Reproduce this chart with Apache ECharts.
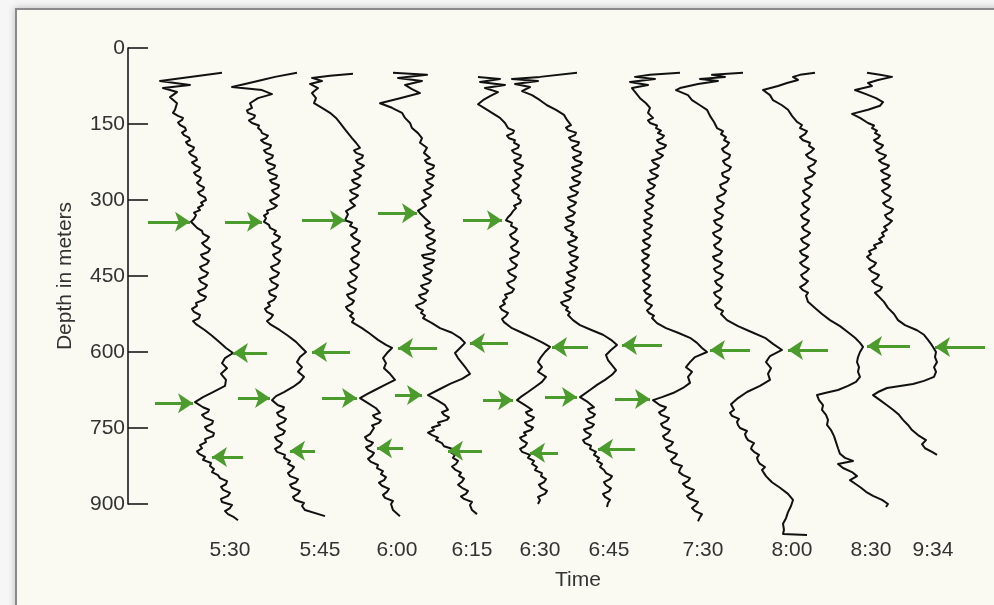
<!DOCTYPE html>
<html>
<head>
<meta charset="utf-8">
<title>Depth profiles</title>
<script src="https://cdn.jsdelivr.net/npm/echarts@6/dist/echarts.min.js"></script>
<style>
  html, body { margin: 0; padding: 0; background: #f6f6f6; }
  #frame {
    position: absolute; left: 15px; top: 8px; width: 1000px; height: 620px;
    border: 2px solid #8a8a8a; background: #fafaf3;
    box-shadow: 0 0 7px rgba(0,0,0,0.25);
  }
  #chart { position: absolute; left: 0; top: 0; width: 994px; height: 605px; }
</style>
</head>
<body>
<div id="frame"></div>
<div id="chart"></div>
<script>
// Time of each sounding and where its label sits on the horizontal scale
const timeLabels = ['5:30', '5:45', '6:00', '6:15', '6:30', '6:45', '7:30', '8:00', '8:30', '9:34'];
const labelPositions = [102, 192, 269, 344, 412, 481, 575, 664, 743, 805];

// Depth ticks (m)
const depthTicks = [0, 150, 300, 450, 600, 750, 900];

// Profiles: [horizontal reading, depth in m]
const profile0530 = [[94,49],[32,65],[62,73],[35,79],[49,87],[42,97],[49,109],[47,122],[45,128],[50,134],[55,138],[54,142],[50,147],[52,152],[57,157],[58,162],[54,167],[56,172],[61,177],[62,182],[58,186],[60,191],[66,196],[65,201],[61,206],[63,211],[68,216],[69,221],[64,226],[67,231],[72,236],[71,241],[66,246],[68,251],[73,256],[72,261],[69,266],[71,270],[76,275],[75,280],[70,285],[72,290],[77,295],[78,300],[73,305],[75,310],[70,315],[72,320],[66,325],[68,330],[66,337],[63,343],[66,349],[69,355],[74,361],[75,367],[81,373],[79,379],[74,385],[77,391],[82,397],[80,403],[73,408],[75,414],[81,420],[79,426],[72,432],[74,438],[80,444],[78,450],[71,456],[73,462],[79,468],[77,474],[70,480],[72,486],[78,491],[76,497],[68,503],[69,509],[64,515],[66,521],[72,527],[71,533],[65,539],[68,545],[77,557],[84,568],[91,580],[98,592],[105,602],[97,612],[94,622],[99,632],[93,643],[98,655],[97,667],[85,679],[75,689],[67,699],[75,709],[81,714],[80,718],[74,724],[77,730],[85,736],[84,742],[77,748],[79,754],[86,760],[85,766],[77,772],[78,778],[72,784],[74,790],[69,796],[71,801],[77,807],[75,813],[83,819],[82,825],[86,831],[84,837],[90,843],[92,849],[99,855],[98,861],[93,866],[95,872],[102,878],[100,884],[93,890],[94,896],[104,902],[102,908],[97,914],[100,920],[106,926],[110,932]];
const profile0545 = [[169,49],[147,57],[134,63],[117,71],[104,77],[134,83],[144,91],[130,99],[122,109],[124,118],[119,123],[120,128],[127,133],[126,138],[121,143],[124,148],[131,153],[130,158],[133,163],[134,168],[140,173],[138,178],[133,182],[136,187],[143,192],[142,197],[136,202],[138,207],[145,212],[144,217],[138,222],[140,227],[147,232],[146,237],[140,242],[142,247],[149,252],[148,257],[142,261],[144,266],[151,271],[150,276],[144,281],[146,286],[151,291],[148,296],[142,301],[144,306],[149,311],[146,316],[139,321],[140,326],[136,331],[138,336],[136,343],[141,349],[142,355],[148,361],[146,367],[152,373],[150,379],[144,385],[146,391],[153,397],[151,403],[145,408],[147,414],[152,420],[150,426],[143,432],[145,438],[151,444],[149,450],[142,456],[144,462],[150,468],[148,474],[141,480],[142,486],[148,491],[146,497],[140,503],[142,509],[137,515],[139,521],[145,527],[143,533],[139,539],[142,545],[152,557],[160,568],[168,580],[174,592],[178,600],[172,610],[169,620],[174,630],[170,639],[176,649],[172,659],[165,669],[156,679],[148,687],[144,695],[150,705],[156,709],[155,714],[149,720],[151,726],[158,732],[156,738],[149,744],[151,750],[157,756],[155,762],[147,768],[149,774],[154,780],[152,786],[147,791],[149,797],[157,803],[156,809],[162,815],[160,821],[166,827],[164,833],[160,839],[162,845],[170,851],[168,857],[162,862],[164,868],[172,874],[170,880],[165,886],[167,892],[176,898],[174,904],[177,912],[197,924]];
const profile0600 = [[225,51],[202,55],[184,59],[194,65],[182,71],[190,79],[184,89],[188,99],[186,109],[194,118],[202,128],[208,138],[212,148],[216,158],[220,168],[224,178],[228,187],[232,197],[226,202],[228,207],[235,212],[234,217],[228,222],[230,227],[236,232],[233,237],[226,242],[228,247],[233,252],[230,257],[224,261],[226,266],[232,271],[229,276],[222,281],[224,286],[230,291],[227,296],[222,301],[224,306],[227,311],[223,316],[218,322],[220,328],[217,340],[224,345],[222,351],[229,357],[228,363],[223,369],[226,375],[232,381],[230,387],[224,393],[226,399],[231,404],[229,410],[223,416],[225,422],[231,428],[229,434],[222,440],[224,446],[229,452],[227,458],[220,464],[222,470],[228,476],[226,482],[219,487],[221,493],[226,499],[224,505],[218,511],[220,517],[225,523],[222,529],[226,535],[224,541],[234,553],[242,564],[250,576],[258,586],[264,592],[259,602],[255,612],[258,622],[256,632],[262,643],[267,655],[257,665],[247,675],[239,683],[232,691],[240,701],[248,711],[252,720],[245,725],[247,730],[253,735],[251,740],[244,745],[246,750],[244,756],[242,762],[237,768],[239,774],[245,779],[243,784],[238,788],[240,793],[246,799],[244,805],[240,811],[243,817],[250,823],[249,829],[255,835],[253,841],[258,847],[256,853],[251,858],[254,864],[261,870],[259,876],[255,882],[257,888],[265,894],[263,900],[265,912],[272,924]];
const profile0615 = [[265,49],[299,53],[270,59],[294,65],[277,73],[284,81],[292,89],[272,99],[252,109],[264,118],[274,128],[277,138],[282,148],[284,158],[290,168],[294,178],[292,187],[299,197],[296,207],[302,217],[297,222],[299,227],[306,232],[305,237],[299,242],[300,247],[306,252],[304,257],[298,261],[300,266],[305,271],[302,276],[296,281],[298,286],[303,291],[300,296],[294,301],[296,306],[298,311],[294,316],[290,321],[292,326],[297,336],[302,345],[297,350],[299,355],[306,360],[304,365],[298,370],[301,375],[307,380],[305,385],[299,390],[300,395],[307,400],[305,405],[294,409],[296,414],[306,419],[304,424],[296,429],[298,434],[304,439],[302,444],[295,449],[297,454],[303,459],[301,464],[293,469],[295,474],[300,479],[298,484],[291,488],[293,493],[298,498],[295,503],[288,508],[290,513],[295,518],[293,523],[297,528],[295,533],[304,543],[312,553],[324,562],[332,572],[337,582],[332,592],[327,602],[330,612],[334,622],[338,632],[342,643],[334,653],[322,663],[312,673],[300,685],[309,695],[317,705],[320,714],[314,719],[316,724],[321,729],[319,734],[310,739],[312,744],[304,749],[306,754],[300,759],[304,764],[310,769],[308,774],[314,780],[316,786],[324,791],[322,797],[327,803],[325,809],[330,815],[328,821],[324,826],[327,832],[333,838],[331,844],[336,850],[334,856],[330,862],[334,868],[340,874],[338,880],[333,885],[336,890],[344,896],[342,902],[344,912],[349,920]];
const profile0630 = [[350,57],[372,61],[352,67],[377,73],[357,79],[370,87],[362,95],[355,103],[350,111],[356,118],[364,128],[372,138],[377,148],[380,158],[386,163],[385,168],[379,173],[381,178],[387,182],[386,187],[391,192],[390,197],[384,202],[386,207],[393,212],[392,217],[386,222],[388,227],[395,232],[393,237],[387,242],[389,247],[393,252],[391,257],[385,261],[387,266],[391,271],[389,276],[384,281],[386,286],[391,291],[390,296],[393,301],[392,306],[386,311],[388,316],[385,322],[383,328],[380,334],[378,340],[384,345],[383,351],[389,357],[387,363],[382,369],[384,375],[390,381],[388,387],[383,393],[385,399],[391,404],[389,410],[382,416],[384,422],[389,428],[387,434],[380,440],[382,446],[388,452],[386,458],[379,464],[381,470],[386,476],[384,482],[377,487],[379,493],[375,499],[377,505],[372,511],[374,517],[380,523],[378,529],[374,535],[376,541],[384,553],[394,562],[405,572],[415,582],[422,590],[417,600],[413,610],[410,620],[414,630],[410,639],[418,649],[414,659],[407,669],[400,679],[394,687],[389,695],[397,705],[404,714],[398,719],[400,724],[406,729],[404,734],[397,739],[399,744],[405,749],[403,754],[396,759],[398,764],[392,769],[394,774],[399,780],[397,786],[392,791],[394,797],[402,803],[400,809],[406,815],[404,821],[409,827],[407,833],[414,839],[413,845],[418,851],[416,857],[411,862],[413,868],[419,874],[417,880],[410,886],[412,892],[410,900]];
const profile0645 = [[449,49],[412,57],[384,61],[410,65],[387,71],[402,77],[394,85],[404,93],[412,103],[419,113],[428,122],[436,132],[439,142],[443,152],[438,157],[440,162],[448,167],[447,172],[441,177],[443,182],[451,186],[450,191],[444,196],[446,201],[453,206],[452,211],[445,216],[447,221],[454,226],[452,231],[444,236],[446,241],[453,246],[451,251],[444,256],[446,261],[452,265],[450,270],[442,275],[444,280],[450,285],[448,290],[440,295],[442,300],[448,305],[446,310],[440,315],[442,320],[447,325],[445,330],[438,335],[440,340],[446,344],[444,349],[437,354],[439,359],[445,364],[443,369],[449,374],[447,379],[440,384],[442,389],[449,394],[447,399],[441,404],[443,409],[450,413],[448,418],[442,423],[444,428],[449,433],[447,438],[439,443],[441,448],[447,453],[445,458],[438,463],[440,468],[446,473],[444,478],[436,483],[438,488],[443,492],[441,497],[433,502],[435,507],[440,512],[438,517],[442,522],[440,527],[445,537],[452,547],[464,557],[475,566],[483,576],[489,586],[483,596],[478,606],[480,616],[484,626],[488,636],[484,645],[477,655],[469,665],[462,675],[452,689],[460,699],[466,709],[460,713],[462,718],[467,723],[465,728],[458,733],[460,738],[466,743],[464,748],[456,753],[458,758],[463,763],[461,768],[455,774],[457,780],[463,785],[462,791],[468,797],[466,803],[471,809],[469,815],[474,821],[472,827],[476,833],[478,839],[484,845],[482,851],[476,857],[478,863],[483,869],[481,875],[475,880],[477,886],[482,892],[480,898],[479,906]];
const profile0730 = [[552,49],[522,53],[507,57],[527,61],[502,67],[520,73],[504,79],[508,89],[512,99],[518,109],[522,118],[520,128],[525,138],[520,143],[522,148],[529,153],[528,158],[533,163],[530,168],[536,173],[534,178],[529,182],[531,187],[538,192],[536,197],[528,202],[530,207],[535,212],[532,217],[524,222],[526,227],[531,232],[529,237],[522,242],[524,247],[530,252],[527,257],[520,261],[522,266],[527,271],[525,276],[519,281],[521,286],[526,291],[524,296],[518,301],[520,306],[525,311],[523,316],[517,321],[519,326],[524,331],[522,336],[516,340],[518,345],[524,350],[522,355],[516,360],[518,365],[523,370],[521,375],[515,380],[517,385],[522,390],[520,395],[514,400],[516,405],[521,409],[519,414],[514,419],[516,424],[521,429],[519,434],[515,439],[517,444],[522,449],[520,454],[515,459],[517,464],[522,469],[520,474],[516,479],[518,484],[523,488],[520,493],[517,498],[519,503],[524,508],[522,513],[519,518],[521,523],[526,528],[524,533],[529,543],[538,553],[550,562],[562,572],[569,582],[574,592],[579,600],[567,610],[562,620],[558,630],[564,639],[560,649],[562,661],[555,671],[545,681],[534,689],[525,695],[532,705],[538,709],[536,714],[531,719],[533,724],[541,730],[539,736],[533,742],[535,748],[542,754],[540,760],[535,766],[537,772],[545,778],[543,784],[538,789],[540,795],[549,801],[547,807],[543,813],[545,819],[554,825],[552,831],[551,837],[555,843],[562,849],[560,855],[555,860],[558,866],[566,872],[564,878],[559,884],[562,890],[570,896],[568,902],[564,908],[567,914],[574,920],[572,926],[570,934]];
const profile0800 = [[615,49],[584,53],[597,57],[572,61],[590,65],[570,71],[552,79],[548,83],[560,93],[564,103],[572,113],[579,122],[582,134],[586,146],[589,158],[595,164],[593,170],[598,176],[596,182],[601,187],[599,193],[594,199],[596,205],[602,211],[601,217],[595,223],[597,229],[603,235],[601,241],[594,247],[595,253],[601,258],[599,264],[592,270],[593,276],[598,282],[596,288],[589,294],[590,300],[596,306],[594,312],[587,318],[589,324],[595,330],[593,336],[586,341],[588,347],[594,353],[592,359],[585,365],[587,371],[593,377],[591,383],[586,389],[588,395],[594,401],[592,407],[585,412],[587,418],[594,424],[592,430],[586,436],[588,442],[595,448],[593,454],[587,460],[589,466],[594,472],[592,478],[586,483],[588,489],[593,495],[591,501],[587,507],[589,513],[595,519],[593,525],[599,537],[610,549],[624,561],[637,572],[645,584],[654,596],[642,608],[638,620],[643,632],[640,643],[642,655],[632,667],[619,679],[610,691],[603,703],[606,714],[602,720],[604,726],[611,732],[609,738],[610,744],[612,750],[619,756],[617,762],[618,768],[620,774],[626,780],[624,786],[623,791],[626,797],[631,803],[629,809],[630,815],[632,821],[637,827],[634,833],[636,839],[638,845],[641,851],[644,857],[652,868],[660,880],[665,892],[663,904],[660,916],[658,928],[655,939],[656,951],[655,959],[679,961]];
const profile0830 = [[687,49],[672,53],[665,57],[670,63],[659,69],[650,75],[635,83],[642,93],[645,103],[654,113],[660,122],[664,134],[669,146],[674,152],[672,158],[679,164],[677,170],[672,176],[675,182],[682,187],[681,193],[686,199],[683,205],[678,211],[681,217],[688,223],[686,229],[680,235],[682,241],[687,247],[684,253],[677,258],[678,264],[684,270],[681,276],[675,282],[677,288],[682,294],[680,300],[674,306],[676,312],[681,318],[678,324],[673,330],[675,336],[681,341],[679,347],[674,353],[676,359],[682,365],[679,371],[673,377],[675,383],[681,389],[678,395],[672,401],[674,407],[680,412],[677,418],[672,424],[675,430],[681,436],[678,442],[673,448],[675,454],[680,460],[677,466],[672,472],[675,478],[680,483],[678,489],[680,501],[687,513],[694,525],[702,537],[712,549],[720,561],[727,572],[732,582],[735,590],[732,600],[730,610],[729,620],[731,630],[730,639],[732,649],[728,659],[720,667],[710,675],[697,681],[689,685],[691,695],[695,705],[694,714],[698,724],[700,734],[699,744],[703,754],[706,766],[708,778],[710,790],[712,801],[717,809],[725,815],[710,821],[715,829],[724,837],[729,845],[722,853],[728,861],[733,868],[738,876],[745,884],[754,892],[760,900],[758,906]];
const profile0934 = [[739,49],[752,53],[764,57],[750,63],[740,69],[744,75],[727,83],[738,91],[748,99],[755,107],[752,114],[740,122],[724,130],[732,138],[740,148],[746,153],[744,158],[749,163],[747,168],[752,173],[750,178],[746,182],[749,187],[755,192],[753,197],[748,202],[751,207],[758,212],[756,217],[751,222],[754,227],[761,232],[759,237],[753,242],[756,247],[762,252],[760,257],[754,261],[756,266],[762,271],[760,276],[754,282],[757,288],[763,294],[761,300],[755,306],[758,312],[765,318],[763,324],[757,330],[759,336],[764,341],[761,347],[756,353],[759,359],[754,365],[756,371],[751,377],[754,383],[746,389],[748,395],[741,401],[743,407],[739,412],[742,418],[748,424],[746,430],[741,436],[744,442],[751,448],[749,454],[744,460],[747,466],[754,472],[752,478],[747,483],[750,489],[756,501],[760,513],[766,525],[770,537],[777,547],[789,557],[796,566],[800,576],[803,584],[805,590],[808,600],[807,610],[809,620],[806,630],[808,639],[806,649],[796,657],[785,663],[772,667],[759,671],[750,679],[745,685],[752,695],[759,705],[765,714],[771,724],[775,734],[780,744],[784,754],[790,764],[798,774],[794,782],[797,790],[804,797],[809,803]];

// Layer markers: [tail, tip, depth in m]
const layerArrows = [
  [20,62,343],[139,105,602],[27,65,701],[115,84,807],
  [97,134,343],[222,184,600],[110,142,691],[187,162,795],
  [174,217,340],[309,270,592],[194,229,691],[275,249,790],
  [250,289,326],[380,342,582],[267,294,685],[354,320,795],
  [335,374,340],[460,424,590],[355,385,695],[430,402,799],
  [534,494,586],[417,449,689],[507,470,791],
  [622,582,596],[487,522,693],
  [700,660,596],
  [782,739,588],
  [857,807,590]
];

const profiles = [profile0530, profile0545, profile0600, profile0615, profile0630,
                  profile0645, profile0730, profile0800, profile0830, profile0934];

const font = 'Liberation Sans, Arial, Helvetica, sans-serif';
const ink = '#1a1a1a';

const series = profiles.map((p, i) => ({
  name: timeLabels[i],
  type: 'line',
  data: p,
  symbol: 'none',
  clip: false,
  silent: true,
  lineStyle: { color: '#111', width: 2, join: 'round' },
  z: 3
}));

series.push({
  type: 'lines',
  coordinateSystem: 'cartesian2d',
  symbol: ['none', 'arrow'],
  symbolSize: 15,
  silent: true,
  lineStyle: { color: '#4b9b2d', width: 3, opacity: 1 },
  data: layerArrows.map(a => ({ coords: [[a[0], a[2]], [a[1], a[2]]] })),
  z: 4
});

const chart = echarts.init(document.getElementById('chart'), null, { renderer: 'canvas' });
chart.setOption({
  backgroundColor: 'transparent',
  animation: false,
  grid: { left: 128, top: 48, width: 860, height: 456, containLabel: false },
  xAxis: {
    type: 'value',
    min: 0,
    max: 860,
    axisLine: { show: false },
    axisTick: { show: false },
    splitLine: { show: false },
    axisLabel: {
      customValues: labelPositions,
      formatter: v => timeLabels[labelPositions.indexOf(v)] || '',
      fontFamily: font,
      fontSize: 21,
      color: '#333',
      margin: 36
    },
    name: 'Time',
    nameLocation: 'middle',
    nameGap: 66,
    nameTextStyle: { fontFamily: font, fontSize: 21, color: '#333', padding: [0, 0, 0, 40] }
  },
  yAxis: {
    type: 'value',
    inverse: true,
    min: 0,
    max: 900,
    interval: 150,
    axisLine: { show: true, lineStyle: { color: ink, width: 1.6 } },
    axisTick: { show: true, inside: true, length: 20, lineStyle: { color: ink, width: 1.6 } },
    splitLine: { show: false },
    axisLabel: {
      customValues: depthTicks,
      fontFamily: font,
      fontSize: 21,
      color: '#333',
      margin: 3
    },
    name: 'Depth in meters',
    nameLocation: 'middle',
    nameRotate: 90,
    nameGap: 52,
    nameTextStyle: { fontFamily: font, fontSize: 21, color: '#333' }
  },
  series: series
});
</script>
</body>
</html>
